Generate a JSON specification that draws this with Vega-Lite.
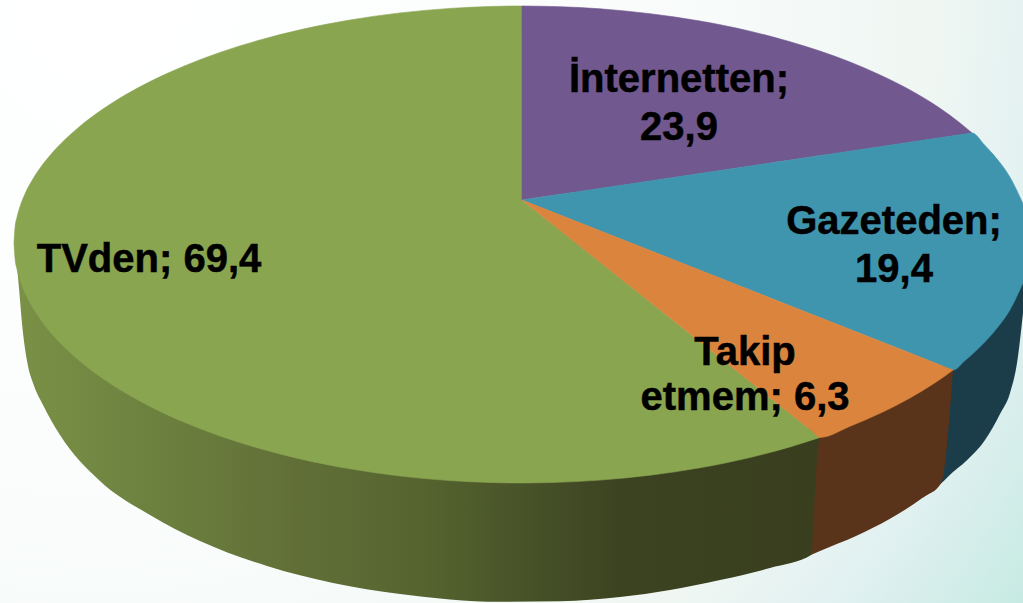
{"$schema":"https://vega.github.io/schema/vega-lite/v6.json","width":1023,"height":603,"padding":0,"autosize":"none","background":"white","config":{"view":{"stroke":null}},
"resolve":{"scale":{"fill":"independent","stroke":"independent"}},
"datasets":{
"backdrop":[{"x":0,"x2":1023,"y":0,"y2":603}],
"greenWall":[{"x":14,"y":243,"y2":243},{"x":17,"y":262,"y2":267},{"x":23,"y":282,"y2":333},{"x":28,"y":295,"y2":366},{"x":33,"y":303,"y2":383},{"x":43,"y":318,"y2":405},{"x":60,"y":340,"y2":435},{"x":100,"y":370,"y2":481},{"x":150,"y":400,"y2":515},{"x":200,"y":425,"y2":541},{"x":267,"y":445,"y2":566},{"x":333,"y":460,"y2":583},{"x":400,"y":470,"y2":594},{"x":450,"y":475,"y2":599.4},{"x":500,"y":478,"y2":601.8},{"x":560,"y":478,"y2":601.3},{"x":620,"y":474,"y2":597},{"x":670,"y":468,"y2":590},{"x":720,"y":458,"y2":580},{"x":770,"y":445,"y2":568},{"x":812,"y":428,"y2":554.6},{"x":820,"y":437.4,"y2":437.4}],
"otherWalls":[
{"slice":"Gazeteden","x":923,"y":420,"y2":497.6},{"slice":"Gazeteden","x":941,"y":380,"y2":483.6},{"slice":"Gazeteden","x":953,"y":366,"y2":472},{"slice":"Gazeteden","x":965,"y":352,"y2":462},{"slice":"Gazeteden","x":985,"y":335,"y2":440},{"slice":"Gazeteden","x":1000,"y":315,"y2":414},{"slice":"Gazeteden","x":1010,"y":300,"y2":393},{"slice":"Gazeteden","x":1017,"y":285,"y2":363},{"slice":"Gazeteden","x":1023,"y":275,"y2":313},
{"slice":"Takip etmem","x":812,"y":554.6,"y2":554.6},{"slice":"Takip etmem","x":820,"y":437,"y2":551},{"slice":"Takip etmem","x":856,"y":420,"y2":536},{"slice":"Takip etmem","x":890,"y":400,"y2":518.8},{"slice":"Takip etmem","x":923,"y":380,"y2":497.6},{"slice":"Takip etmem","x":941,"y":366,"y2":483.6},{"slice":"Takip etmem","x":953,"y":370,"y2":370}],
"faces":[
{"slice":"TVden","x":14,"y":243,"y2":243},{"slice":"TVden","x":15,"y":228.1,"y2":258},{"slice":"TVden","x":17,"y":217.3,"y2":269},{"slice":"TVden","x":20,"y":206.7,"y2":279.8},{"slice":"TVden","x":25,"y":193.9,"y2":292.7},{"slice":"TVden","x":32,"y":180.5,"y2":306.3},{"slice":"TVden","x":40,"y":168.2,"y2":318.8},{"slice":"TVden","x":50,"y":155.4,"y2":331.8},{"slice":"TVden","x":65,"y":139.5,"y2":347.8},{"slice":"TVden","x":80,"y":126.2,"y2":361.3},{"slice":"TVden","x":100,"y":111.1,"y2":376.6},{"slice":"TVden","x":125,"y":95.1,"y2":392.7},{"slice":"TVden","x":150,"y":81.6,"y2":406.4},{"slice":"TVden","x":185,"y":65.7,"y2":422.6},{"slice":"TVden","x":220,"y":52.4,"y2":436},{"slice":"TVden","x":260,"y":40,"y2":448.6},{"slice":"TVden","x":300,"y":29.8,"y2":458.9},{"slice":"TVden","x":350,"y":20,"y2":468.8},{"slice":"TVden","x":400,"y":12.9,"y2":476},{"slice":"TVden","x":450,"y":8.4,"y2":480.6},{"slice":"TVden","x":490,"y":6.5,"y2":482.5},{"slice":"TVden","x":522,"y":6,"y2":483},{"slice":"TVden","x":522.2,"y":200,"y2":483},{"slice":"TVden","x":527,"y":204,"y2":482.9},{"slice":"TVden","x":550,"y":222.3,"y2":482.6},{"slice":"TVden","x":600,"y":262.1,"y2":480.1},{"slice":"TVden","x":650,"y":302,"y2":475.2},{"slice":"TVden","x":700,"y":341.8,"y2":467.8},{"slice":"TVden","x":750,"y":381.6,"y2":457.5},{"slice":"TVden","x":790,"y":413.5,"y2":446.9},{"slice":"TVden","x":820,"y":437.4,"y2":437.4},
{"slice":"İnternetten","x":522,"y":6,"y2":200},{"slice":"İnternetten","x":560,"y":6.7,"y2":194.3},{"slice":"İnternetten","x":600,"y":8.8,"y2":188.4},{"slice":"İnternetten","x":650,"y":13.7,"y2":180.9},{"slice":"İnternetten","x":700,"y":21,"y2":173.5},{"slice":"İnternetten","x":750,"y":31.2,"y2":166.1},{"slice":"İnternetten","x":790,"y":41.7,"y2":160.1},{"slice":"İnternetten","x":820,"y":51.1,"y2":155.6},{"slice":"İnternetten","x":850,"y":62,"y2":151.2},{"slice":"İnternetten","x":880,"y":74.9,"y2":146.7},{"slice":"İnternetten","x":910,"y":90,"y2":142.2},{"slice":"İnternetten","x":940,"y":108.3,"y2":137.8},{"slice":"İnternetten","x":960,"y":123,"y2":134.8},{"slice":"İnternetten","x":972,"y":133,"y2":133},
{"slice":"Gazeteden","x":522,"y":200,"y2":200},{"slice":"Gazeteden","x":750,"y":166.1,"y2":289.9},{"slice":"Gazeteden","x":900,"y":143.7,"y2":349.1},{"slice":"Gazeteden","x":945,"y":137,"y2":366.9},{"slice":"Gazeteden","x":953,"y":135.8,"y2":370},{"slice":"Gazeteden","x":965,"y":134,"y2":360.5},{"slice":"Gazeteden","x":972,"y":133,"y2":354.4},{"slice":"Gazeteden","x":985,"y":145.5,"y2":341.8},{"slice":"Gazeteden","x":997,"y":159,"y2":328.1},{"slice":"Gazeteden","x":1010,"y":177.2,"y2":309.7},{"slice":"Gazeteden","x":1023,"y":203.8,"y2":282.7},
{"slice":"Takip etmem","x":522,"y":200,"y2":200},{"slice":"Takip etmem","x":750,"y":289.9,"y2":381.6},{"slice":"Takip etmem","x":812,"y":314.4,"y2":431},{"slice":"Takip etmem","x":820,"y":317.5,"y2":437.4},{"slice":"Takip etmem","x":850,"y":329.4,"y2":426.3},{"slice":"Takip etmem","x":880,"y":341.2,"y2":413.3},{"slice":"Takip etmem","x":910,"y":353,"y2":397.9},{"slice":"Takip etmem","x":935,"y":362.9,"y2":382.7},{"slice":"Takip etmem","x":945,"y":366.9,"y2":375.9},{"slice":"Takip etmem","x":953,"y":370,"y2":370}],
"labels":[{"text":"İnternetten;","x":679,"y":92},{"text":"23,9","x":679,"y":140},{"text":"Gazeteden;","x":894,"y":234},{"text":"19,4","x":894,"y":282},{"text":"Takip","x":745,"y":365},{"text":"etmem; 6,3","x":745,"y":410},{"text":"TVden; 69,4","x":149,"y":272}]},
"encoding":{"x":{"field":"x","type":"quantitative","axis":null,"scale":{"domain":[0,1023],"nice":false,"zero":false}},"y":{"field":"y","type":"quantitative","axis":null,"stack":null,"scale":{"domain":[603,0],"nice":false,"zero":false}}},
"layer":[
{"data":{"name":"backdrop"},"mark":{"type":"rect","fill":{"gradient":"radial","x1":0.1,"y1":0.2,"r1":0,"x2":0.1,"y2":0.2,"r2":1.2,"stops":[{"offset":0,"color":"#ffffff"},{"offset":0.4,"color":"#fbfdfd"},{"offset":0.67,"color":"#f0f7f3"},{"offset":0.77,"color":"#e2f1f1"},{"offset":0.89,"color":"#c9ebe4"},{"offset":1,"color":"#aedfd9"}]}},"encoding":{"x2":{"field":"x2"},"y2":{"field":"y2"}}},
{"data":{"name":"greenWall"},"mark":{"type":"area","interpolate":"monotone","fill":{"gradient":"linear","x1":0,"y1":0,"x2":1,"y2":0,"stops":[{"offset":0,"color":"#7b9146"},{"offset":0.15,"color":"#6e8340"},{"offset":0.35,"color":"#616f37"},{"offset":0.5,"color":"#566530"},{"offset":0.75,"color":"#3c4321"},{"offset":1,"color":"#393f1e"}]}},"encoding":{"y2":{"field":"y2"}}},
{"data":{"name":"otherWalls"},"mark":{"type":"area","interpolate":"monotone"},"encoding":{"y2":{"field":"y2"},"fill":{"field":"slice","type":"nominal","legend":null,"scale":{"domain":["Takip etmem","Gazeteden"],"range":["#59341a","#1b3d4a"]}}}},
{"data":{"name":"faces"},"mark":{"type":"area","interpolate":"monotone","strokeWidth":0.6},"encoding":{"y2":{"field":"y2"},"fill":{"field":"slice","type":"nominal","legend":null,"scale":{"domain":["TVden","İnternetten","Gazeteden","Takip etmem"],"range":["#8aa550","#71588f","#4095ae","#db843d"]}},"stroke":{"field":"slice","type":"nominal","legend":null,"scale":{"domain":["TVden","İnternetten","Gazeteden","Takip etmem"],"range":["#8aa550","#71588f","#4095ae","#db843d"]}}}},
{"data":{"name":"labels"},"mark":{"type":"text","font":"Liberation Sans","fontWeight":"bold","fontSize":40,"align":"center","baseline":"alphabetic","fill":"#000000","stroke":"#000000","strokeWidth":0.5},"encoding":{"text":{"field":"text"}}}
]}
